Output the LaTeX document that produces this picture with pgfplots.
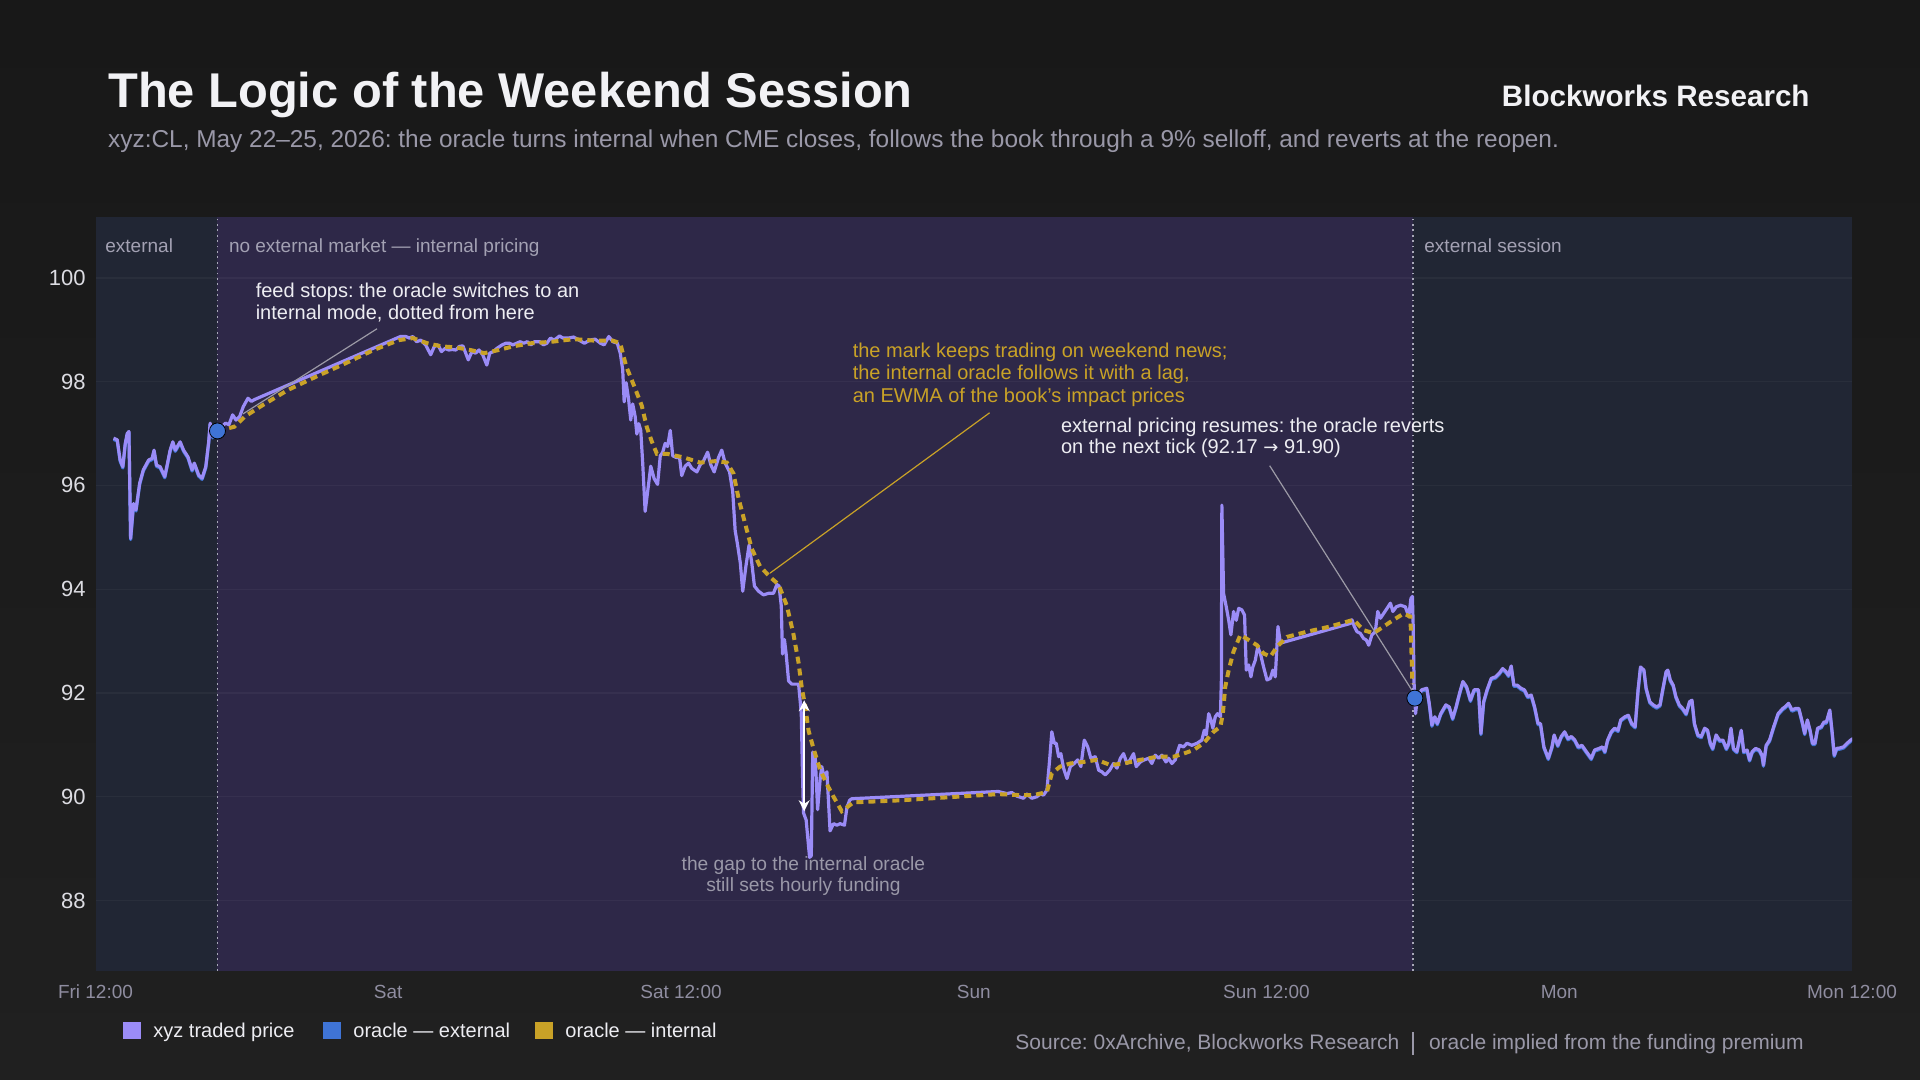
\documentclass[border=0pt]{standalone}
\usepackage{fontspec}
\setmainfont{Liberation Sans}
\newfontfamily\arrowfont{DejaVu Sans}
\usepackage{pgfplots}
\pgfplotsset{compat=1.18}
\usepackage{pgfplotstable}
\usetikzlibrary{arrows.meta}
\frenchspacing

\definecolor{bgtop}{HTML}{181818}
\definecolor{bgbot}{HTML}{202020}
\definecolor{extbg}{HTML}{212634}
\definecolor{intbg}{HTML}{2E2848}
\definecolor{traded}{HTML}{9B8CF7}
\definecolor{oext}{HTML}{3F74D6}
\definecolor{oint}{HTML}{C9A227}
\definecolor{subgrey}{HTML}{9A98A8}
\definecolor{ticky}{HTML}{DCDCE2}
\definecolor{tickx}{HTML}{8F8DA0}
\definecolor{regiongrey}{HTML}{A3A1B3}
\definecolor{titlecol}{HTML}{F2F2F5}
\definecolor{anncol}{HTML}{EDEDF2}
\definecolor{leadgrey}{HTML}{9C9AA6}
\definecolor{dotcol}{HTML}{A8A8B8}

\pgfplotstableread{
h v
0.74 96.91
0.89 96.88
1.01 96.49
1.12 96.36
1.22 96.81
1.30 97.00
1.37 97.04
1.44 94.98
1.56 95.65
1.66 95.53
1.81 96.04
1.96 96.30
2.18 96.49
2.32 96.52
2.40 96.68
2.50 96.39
2.65 96.36
2.84 96.17
3.06 96.68
3.17 96.84
3.27 96.68
3.47 96.84
3.61 96.68
3.79 96.55
3.96 96.30
4.05 96.43
4.23 96.20
4.37 96.14
4.52 96.36
4.64 96.84
4.70 97.20
4.81 96.94
4.96 97.10
5.11 97.10
5.33 97.20
5.47 97.17
5.62 97.36
5.76 97.26
5.91 97.33
6.06 97.52
6.25 97.68
6.39 97.62
6.50 97.65
6.64 97.68
12.50 98.87
12.72 98.87
12.87 98.84
13.01 98.87
13.16 98.77
13.33 98.80
13.53 98.71
13.74 98.52
13.89 98.68
14.04 98.71
14.18 98.58
14.33 98.64
14.48 98.61
14.62 98.62
14.77 98.61
14.92 98.68
15.06 98.69
15.28 98.42
15.43 98.58
15.58 98.55
15.72 98.61
15.87 98.52
16.04 98.32
16.16 98.55
16.31 98.58
16.45 98.64
16.67 98.71
16.82 98.74
16.97 98.74
17.11 98.71
17.26 98.74
17.41 98.77
17.55 98.74
17.70 98.77
17.85 98.71
17.99 98.77
18.21 98.77
18.36 98.71
18.50 98.74
18.65 98.84
18.80 98.80
19.02 98.88
19.16 98.84
19.38 98.84
19.60 98.86
19.82 98.80
20.04 98.74
20.26 98.80
20.48 98.82
20.70 98.74
20.85 98.71
21.04 98.87
21.21 98.77
21.39 98.74
21.51 98.55
21.61 98.23
21.67 97.61
21.75 97.98
21.85 97.67
21.94 97.26
22.02 97.57
22.12 97.33
22.19 96.99
22.27 97.19
22.35 97.06
22.43 96.43
22.53 95.50
22.67 96.02
22.76 96.37
22.90 96.13
23.04 96.02
23.15 96.57
23.25 96.64
23.35 96.81
23.45 96.75
23.56 97.06
23.66 96.57
23.80 96.54
23.94 96.54
24.03 96.19
24.17 96.37
24.31 96.43
24.44 96.33
24.65 96.26
24.79 96.40
24.92 96.47
25.09 96.64
25.22 96.40
25.36 96.26
25.54 96.54
25.67 96.68
25.81 96.43
25.99 96.26
26.12 95.88
26.22 95.13
26.32 94.85
26.43 94.51
26.53 93.96
26.66 94.44
26.79 94.85
26.90 94.51
27.01 94.06
27.18 93.96
27.38 93.89
27.59 93.92
27.79 93.92
27.93 94.09
28.02 94.06
28.11 93.68
28.16 92.75
28.24 93.03
28.31 92.75
28.41 92.23
28.54 92.17
28.82 92.17
28.93 91.61
28.98 90.44
29.02 89.69
29.13 89.55
29.27 88.83
29.34 88.86
29.40 90.86
29.50 90.79
29.60 89.75
29.71 90.37
29.77 90.58
29.87 90.37
29.98 90.48
30.11 89.34
30.25 89.48
30.39 89.45
30.52 89.48
30.70 89.45
30.80 89.79
30.91 89.93
31.00 89.96
37.00 90.10
37.36 90.06
37.56 90.08
37.77 90.01
38.04 89.97
38.18 90.05
38.38 89.97
38.59 90.00
38.73 90.06
38.86 90.03
39.00 90.13
39.11 90.71
39.20 91.25
39.30 91.03
39.38 91.03
39.48 90.77
39.57 90.83
39.68 90.55
39.82 90.35
39.96 90.58
40.12 90.64
40.26 90.71
40.39 90.58
40.53 91.09
40.67 90.96
40.80 90.74
40.98 90.77
41.12 90.51
41.25 90.48
41.39 90.42
41.57 90.51
41.73 90.64
41.87 90.55
42.01 90.74
42.14 90.83
42.28 90.64
42.41 90.71
42.55 90.83
42.66 90.58
42.83 90.67
42.99 90.71
43.17 90.74
43.30 90.64
43.44 90.80
43.58 90.74
43.71 90.80
43.88 90.67
43.99 90.74
44.12 90.64
44.26 90.71
44.33 90.83
44.44 90.99
44.60 90.96
44.74 91.03
44.94 90.99
45.15 91.03
45.35 91.09
45.45 91.28
45.53 91.19
45.63 91.60
45.72 91.48
45.80 91.32
45.90 91.54
45.99 91.60
46.11 91.54
46.15 92.25
46.17 95.62
46.24 93.92
46.35 93.66
46.45 93.40
46.54 93.12
46.65 93.57
46.76 93.40
46.86 93.63
46.99 93.60
47.10 93.50
47.17 92.44
47.27 92.54
47.36 92.31
47.44 92.50
47.54 92.63
47.64 92.89
47.75 92.76
47.88 92.50
48.02 92.25
48.16 92.28
48.26 92.44
48.36 92.31
48.47 93.28
48.57 92.96
51.44 93.34
51.50 93.41
51.60 93.28
51.71 93.18
51.84 93.15
51.98 93.05
52.09 93.02
52.19 92.92
52.32 93.12
52.46 93.18
52.56 93.57
52.67 93.44
52.80 93.53
52.94 93.63
53.08 93.73
53.18 93.57
53.32 93.66
53.49 93.69
53.69 93.66
53.83 93.47
53.92 93.82
53.98 93.86
54.01 93.34
54.05 92.18
54.11 91.60
54.19 91.93
54.36 92.06
54.57 92.09
54.67 91.80
54.78 91.38
54.90 91.54
55.00 91.41
55.14 91.60
55.35 91.77
55.49 91.73
55.63 91.51
55.77 91.73
55.91 91.99
56.05 92.22
56.20 92.12
56.36 91.86
56.51 92.06
56.69 92.06
56.79 91.22
56.90 91.83
57.04 92.06
57.21 92.28
57.39 92.31
57.54 92.38
57.68 92.47
57.82 92.41
57.92 92.34
58.03 92.52
58.14 92.15
58.28 92.15
58.43 92.09
58.57 92.06
58.71 91.93
58.85 91.96
58.99 91.73
59.13 91.41
59.23 91.41
59.37 90.96
59.55 90.74
59.70 90.96
59.79 91.19
59.94 90.99
60.08 91.16
60.22 91.25
60.36 91.12
60.50 91.16
60.64 91.09
60.78 90.96
60.93 90.99
61.11 90.87
61.31 90.74
61.45 90.90
61.63 90.93
61.77 90.96
61.87 90.87
61.98 91.09
62.13 91.25
62.27 91.32
62.41 91.28
62.52 91.48
62.69 91.54
62.83 91.57
62.97 91.41
63.11 91.35
63.23 92.06
63.33 92.50
63.47 92.44
63.56 92.09
63.71 91.83
63.85 91.77
63.99 91.73
64.13 91.77
64.24 92.06
64.38 92.41
64.45 92.44
64.55 92.25
64.67 92.15
64.78 91.93
64.92 91.77
65.06 91.70
65.20 91.60
65.34 91.83
65.44 91.86
65.54 91.41
65.68 91.19
65.82 91.16
65.96 91.32
66.08 91.28
66.19 91.03
66.29 90.93
66.43 91.19
66.57 91.09
66.71 91.09
66.85 90.93
66.95 91.03
67.04 91.32
67.14 90.93
67.28 90.87
67.38 91.09
67.46 91.28
67.56 90.87
67.70 90.90
67.80 90.71
67.91 90.87
68.05 90.93
68.20 90.90
68.31 90.80
68.37 90.61
68.48 90.99
68.62 91.09
68.79 91.35
68.97 91.60
69.16 91.70
69.25 91.73
69.40 91.80
69.54 91.67
69.68 91.70
69.82 91.70
69.96 91.44
70.06 91.22
70.17 91.48
70.28 91.28
70.38 91.03
70.48 91.03
70.59 91.32
70.74 91.35
70.85 91.44
70.95 91.44
71.09 91.67
71.19 91.22
71.27 90.80
71.37 90.93
71.51 90.94
71.65 90.96
71.80 91.03
71.94 91.09
72.04 91.12
}\traded

\pgfplotstableread{
h v
0.74 96.91
0.89 96.88
1.01 96.49
1.12 96.36
1.22 96.81
1.30 97.00
1.37 97.04
1.44 94.98
1.56 95.65
1.66 95.53
1.81 96.04
1.96 96.30
2.18 96.49
2.32 96.52
2.40 96.68
2.50 96.39
2.65 96.36
2.84 96.17
3.06 96.68
3.17 96.84
3.27 96.68
3.47 96.84
3.61 96.68
3.79 96.55
3.96 96.30
4.05 96.43
4.23 96.20
4.37 96.14
4.52 96.36
4.64 96.84
4.70 97.20
4.81 96.94
4.96 97.10
5.00 97.05
}\oextA

\pgfplotstableread{
h v
54.08 91.90
54.19 91.93
54.36 92.06
54.57 92.09
54.67 91.80
54.78 91.38
54.90 91.54
55.00 91.41
55.14 91.60
55.35 91.77
55.49 91.73
55.63 91.51
55.77 91.73
55.91 91.99
56.05 92.22
56.20 92.12
56.36 91.86
56.51 92.06
56.69 92.06
56.79 91.22
56.90 91.83
57.04 92.06
57.21 92.28
57.39 92.31
57.54 92.38
57.68 92.47
57.82 92.41
57.92 92.34
58.03 92.52
58.14 92.15
58.28 92.15
58.43 92.09
58.57 92.06
58.71 91.93
58.85 91.96
58.99 91.73
59.13 91.41
59.23 91.41
59.37 90.96
59.55 90.74
59.70 90.96
59.79 91.19
59.94 90.99
60.08 91.16
60.22 91.25
60.36 91.12
60.50 91.16
60.64 91.09
60.78 90.96
60.93 90.99
61.11 90.87
61.31 90.74
61.45 90.90
61.63 90.93
61.77 90.96
61.87 90.87
61.98 91.09
62.13 91.25
62.27 91.32
62.41 91.28
62.52 91.48
62.69 91.54
62.83 91.57
62.97 91.41
63.11 91.35
63.23 92.06
63.33 92.50
63.47 92.44
63.56 92.09
63.71 91.83
63.85 91.77
63.99 91.73
64.13 91.77
64.24 92.06
64.38 92.41
64.45 92.44
64.55 92.25
64.67 92.15
64.78 91.93
64.92 91.77
65.06 91.70
65.20 91.60
65.34 91.83
65.44 91.86
65.54 91.41
65.68 91.19
65.82 91.16
65.96 91.32
66.08 91.28
66.19 91.03
66.29 90.93
66.43 91.19
66.57 91.09
66.71 91.09
66.85 90.93
66.95 91.03
67.04 91.32
67.14 90.93
67.28 90.87
67.38 91.09
67.46 91.28
67.56 90.87
67.70 90.90
67.80 90.71
67.91 90.87
68.05 90.93
68.20 90.90
68.31 90.80
68.37 90.61
68.48 90.99
68.62 91.09
68.79 91.35
68.97 91.60
69.16 91.70
69.25 91.73
69.40 91.80
69.54 91.67
69.68 91.70
69.82 91.70
69.96 91.44
70.06 91.22
70.17 91.48
70.28 91.28
70.38 91.03
70.48 91.03
70.59 91.32
70.74 91.35
70.85 91.44
70.95 91.44
71.09 91.67
71.19 91.22
71.27 90.80
71.37 90.93
71.51 90.94
71.65 90.96
71.80 91.03
71.94 91.09
72.04 91.12
}\oextB

\pgfplotstableread{
h v
5.00 97.05
5.69 97.13
6.13 97.33
6.86 97.55
7.89 97.84
9.06 98.10
10.23 98.35
11.40 98.61
12.43 98.80
13.01 98.84
13.60 98.74
14.18 98.68
14.77 98.66
15.36 98.61
15.94 98.55
16.53 98.61
17.11 98.68
17.85 98.74
18.72 98.77
19.60 98.82
20.48 98.79
21.21 98.79
21.51 98.74
21.75 98.30
22.05 97.95
22.39 97.54
22.60 97.12
22.80 96.85
23.01 96.61
23.42 96.61
24.10 96.54
24.79 96.44
25.47 96.47
25.88 96.44
26.15 96.23
26.36 95.75
26.63 95.26
26.90 94.78
27.24 94.44
27.66 94.23
28.00 94.09
28.34 93.68
28.61 93.13
28.82 92.58
28.95 92.10
29.09 91.75
29.23 91.27
29.43 90.93
29.71 90.51
29.98 90.24
30.25 90.00
30.59 89.72
30.87 89.82
31.07 89.89
33.00 89.93
37.00 90.05
37.90 90.03
38.45 90.03
39.00 90.09
39.20 90.45
39.54 90.58
39.96 90.64
40.50 90.67
41.05 90.71
41.60 90.61
42.14 90.64
42.83 90.71
43.51 90.77
44.19 90.77
44.60 90.83
45.01 90.90
45.42 91.03
45.83 91.25
46.11 91.35
46.21 91.60
46.31 92.12
46.45 92.44
46.65 92.80
46.93 93.12
47.27 93.02
47.61 92.92
47.88 92.76
48.16 92.70
48.43 92.89
48.84 93.08
49.66 93.18
50.61 93.28
51.57 93.41
51.98 93.21
52.39 93.15
52.80 93.28
53.21 93.41
53.62 93.53
53.90 93.47
53.98 92.17
}\oint

\begin{document}
\begin{tikzpicture}[x=1pt,y=1pt]
\shade[top color=bgtop, bottom color=bgbot] (0,0) rectangle (960,540);
\useasboundingbox (0,0) rectangle (960,540);

\begin{axis}[
  at={(47.75pt,54.5pt)}, anchor=south west,
  width=878.25pt, height=377.15pt, scale only axis,
  xmin=0, xmax=72, ymin=86.64, ymax=101.18,
  axis line style={draw=none},
  major tick length=0pt,
  xtick={0,12,24,36,48,60,72},
  xticklabels={Fri 12:00,Sat,Sat 12:00,Sun,Sun 12:00,Mon,Mon 12:00},
  ytick={88,90,92,94,96,98,100},
  yticklabels={88,90,92,94,96,98,100},
  xticklabel style={font=\fontsize{9.5}{11}\selectfont, text=tickx, anchor=base, inner sep=0pt, yshift=-13.7pt},
  yticklabel style={font=\fontsize{11}{13}\selectfont, text=ticky, anchor=east, inner sep=0pt, xshift=-4.75pt},
]
\fill[extbg] (axis cs:0,86.64) rectangle (axis cs:5,101.18);
\fill[intbg] (axis cs:5,86.64) rectangle (axis cs:54,101.18);
\fill[extbg] (axis cs:54,86.64) rectangle (axis cs:72,101.18);
\pgfplotsinvokeforeach{88,90,92,94,96,98,100}{
  \draw[white, opacity=0.04, line width=0.6pt] (axis cs:0,#1) -- (axis cs:72,#1);
}
\draw[dotcol, line width=0.9pt, dash pattern=on 0.9pt off 1.8pt] (axis cs:5,86.64) -- (axis cs:5,101.18);
\draw[dotcol, line width=0.9pt, dash pattern=on 0.9pt off 1.8pt] (axis cs:54,86.64) -- (axis cs:54,101.18);

\addplot[oext, line width=1.6pt, line join=round, yshift=-0.6pt, forget plot] table[x=h,y=v] {\oextA};
\addplot[oext, line width=1.6pt, line join=round, yshift=-0.6pt, forget plot] table[x=h,y=v] {\oextB};
\addplot[traded, line width=1.6pt, line join=round, forget plot] table[x=h,y=v] {\traded};
\addplot[oint, line width=2pt, dash pattern=on 3.5pt off 2.5pt, forget plot] table[x=h,y=v] {\oint};

% leader lines
\draw[leadgrey, line width=0.6pt] (axis cs:11.54,99.02) -- (axis cs:6.05,97.38);
\draw[oint, line width=0.6pt] (axis cs:36.65,97.40) -- (axis cs:27.65,94.31);
\draw[leadgrey, line width=0.6pt] (axis cs:48.13,96.38) -- (axis cs:54.03,92.00);

% gap arrow
\draw[white, line width=0.8pt, {Stealth[length=5.5pt,width=5.5pt]}-{Stealth[length=5.5pt,width=5.5pt]}] (axis cs:29.05,89.72) -- (axis cs:29.05,91.86);

\addplot[only marks, mark=*, mark size=4pt, mark options={draw=none, fill=oext}, forget plot] coordinates {(5.0,97.05) (54.08,91.90)};
\end{axis}

% region labels
\node[anchor=base west, inner sep=0, text=regiongrey, font=\fontsize{9.5}{11}\selectfont] at (52.5,413.8) {external};
\node[anchor=base west, inner sep=0, text=regiongrey, font=\fontsize{9.5}{11}\selectfont] at (114.3,413.8) {no external market — internal pricing};
\node[anchor=base west, inner sep=0, text=regiongrey, font=\fontsize{9.5}{11}\selectfont] at (712,413.8) {external session};

% annotations
\node[anchor=base west, inner sep=0, text=anncol, font=\fontsize{10}{12}\selectfont] at (127.7,391.3) {feed stops: the oracle switches to an};
\node[anchor=base west, inner sep=0, text=anncol, font=\fontsize{10}{12}\selectfont] at (127.7,380.0) {internal mode, dotted from here};

\node[anchor=base west, inner sep=0, text=oint, font=\fontsize{10}{12}\selectfont] at (426.2,361.3) {the mark keeps trading on weekend news;};
\node[anchor=base west, inner sep=0, text=oint, font=\fontsize{10}{12}\selectfont] at (426.2,350.0) {the internal oracle follows it with a lag,};
\node[anchor=base west, inner sep=0, text=oint, font=\fontsize{10}{12}\selectfont] at (426.2,338.7) {an EWMA of the book's impact prices};

\node[anchor=base west, inner sep=0, text=anncol, font=\fontsize{10}{12}\selectfont] at (530.3,323.8) {external pricing resumes: the oracle reverts};
\node[anchor=base west, inner sep=0, text=anncol, font=\fontsize{10}{12}\selectfont] at (530.3,313.0) {on the next tick (92.17 {\arrowfont\fontsize{9}{11}\selectfont →} 91.90)};

\node[anchor=base, inner sep=0, text=subgrey, font=\fontsize{9.6}{11}\selectfont] at (401.7,104.5) {the gap to the internal oracle};
\node[anchor=base, inner sep=0, text=subgrey, font=\fontsize{9.6}{11}\selectfont] at (401.7,94.3) {still sets hourly funding};

% title block
\node[anchor=base west, inner sep=0, text=titlecol, font=\bfseries\fontsize{24.4}{28}\selectfont] at (53.9,486.4) {The Logic of the Weekend Session};
\node[anchor=base west, inner sep=0, text=subgrey, font=\fontsize{12.2}{14}\selectfont] at (53.9,466.2) {xyz:CL, May 22–25, 2026: the oracle turns internal when CME closes, follows the book through a 9\% selloff, and reverts at the reopen.};
\node[anchor=base east, inner sep=0, text=titlecol, font=\bfseries\fontsize{14.8}{17}\selectfont] at (905,486.6) {Blockworks Research};

% legend
\fill[traded] (61.25,20.4) rectangle (70.25,28.9);
\node[anchor=base west, inner sep=0, text=anncol, font=\fontsize{10}{12}\selectfont] at (76.5,21.25) {xyz traded price};
\fill[oext] (161.4,20.4) rectangle (170.4,28.9);
\node[anchor=base west, inner sep=0, text=anncol, font=\fontsize{10}{12}\selectfont] at (176.5,21.25) {oracle — external};
\fill[oint] (267.3,20.4) rectangle (276.3,28.9);
\node[anchor=base west, inner sep=0, text=anncol, font=\fontsize{10}{12}\selectfont] at (282.5,21.25) {oracle — internal};

% source
\node[anchor=base west, inner sep=0, text=subgrey, font=\fontsize{10.5}{12}\selectfont] at (507.5,15) {Source: 0xArchive, Blockworks Research};
\draw[subgrey, line width=0.6pt] (706.5,12.5) -- (706.5,24.2);
\node[anchor=base west, inner sep=0, text=subgrey, font=\fontsize{10.5}{12}\selectfont] at (714.3,15) {oracle implied from the funding premium};
\end{tikzpicture}
\end{document}
